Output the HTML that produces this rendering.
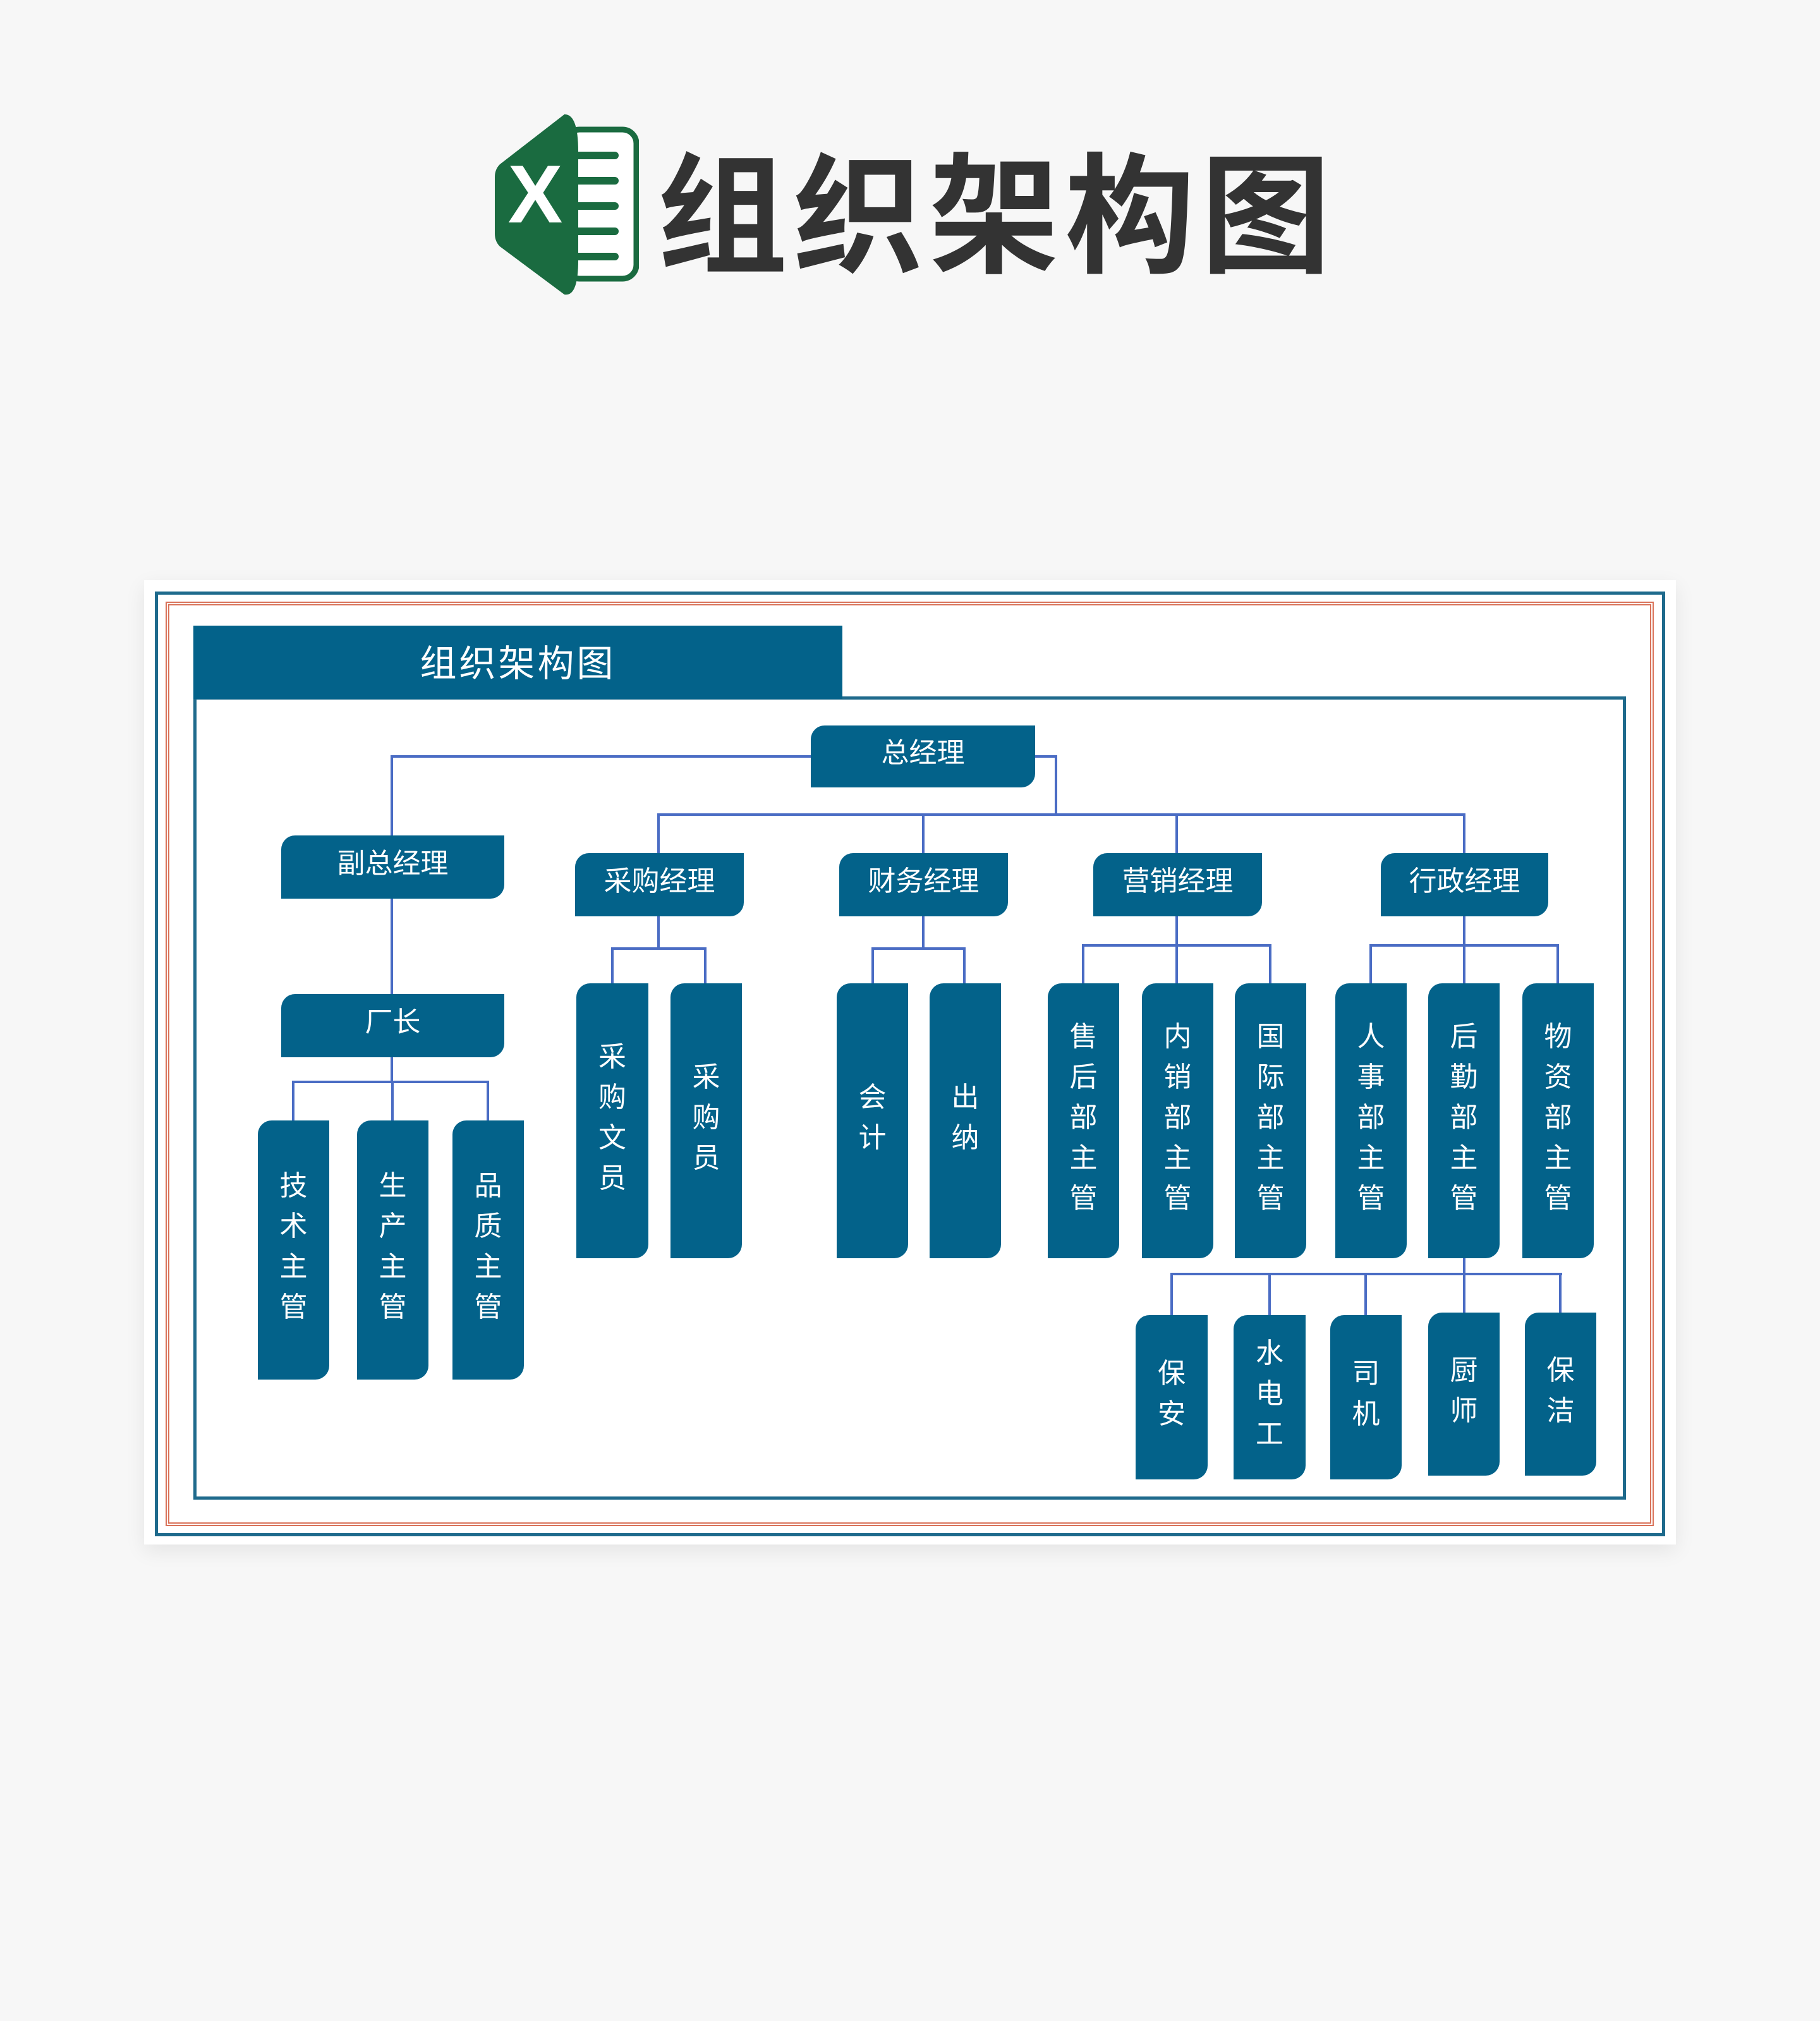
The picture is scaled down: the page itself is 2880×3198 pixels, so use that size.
<!DOCTYPE html>
<html><head><meta charset="utf-8"><style>
*{margin:0;padding:0;box-sizing:border-box}
body{width:2880px;height:3198px;background:#f7f7f7;position:relative;overflow:hidden;font-family:"Liberation Sans","Noto Sans CJK SC",sans-serif}
.a{position:absolute}
.n{position:absolute;background:#03628a;color:#fff;border-radius:22px 0 22px 0;display:flex;align-items:center;justify-content:center;text-align:center;font-size:44px;line-height:64px;padding-bottom:10px}
.h{position:absolute;background:#4a6cc4}
</style></head><body>
<svg class="a" style="left:783px;top:180px" width="228" height="288" viewBox="0 0 228 288">
<rect x="112" y="25" width="112" height="236" rx="22" fill="#fff" stroke="#1a6b40" stroke-width="9"/>
<g fill="#1a6b40">
<rect x="120" y="60" width="76" height="12" rx="6"/><rect x="120" y="100" width="76" height="12" rx="6"/><rect x="120" y="140" width="76" height="12" rx="6"/><rect x="120" y="180" width="76" height="12" rx="6"/><rect x="120" y="220" width="76" height="12" rx="6"/>
<path d="M0 100 Q0 88 8 80 L110 1 Q132 0 132 60 L132 232 Q132 290 110 286 L8 210 Q0 202 0 190 Z"/>
</g>
<text x="64" y="172" font-family="Liberation Sans" font-weight="bold" font-size="130" fill="#fff" text-anchor="middle">X</text>
</svg>
<div class="a" style="left:1040px;top:196px;font-size:206px;line-height:260px;font-weight:bold;color:#333;letter-spacing:9px;font-family:'Noto Sans CJK SC',sans-serif">组织架构图</div>

<div class="a" style="left:228px;top:918px;width:2424px;height:1526px;background:#fff;box-shadow:0 10px 30px rgba(0,0,0,0.08)"></div>
<div class="a" style="left:245px;top:936px;width:2390px;height:1495px;border:5px solid #1e6a8c"></div>
<div class="a" style="left:262px;top:952px;width:2355px;height:1463px;border:6px double #d9735a"></div>
<div class="a" style="left:306px;top:1102px;width:2267px;height:1271px;border:5px solid #1e6a8c"></div>
<div class="a" style="left:306px;top:990px;width:1027px;height:116px;background:#03628a;color:#fff;font-size:58px;display:flex;align-items:center;justify-content:center;letter-spacing:4px;padding-bottom:6px">组织架构图</div>

<div class="h" style="left:618px;top:1195px;width:667px;height:4px"></div>
<div class="h" style="left:618px;top:1195px;width:4px;height:128px"></div>
<div class="h" style="left:1636px;top:1195px;width:36px;height:4px"></div>
<div class="h" style="left:1669px;top:1195px;width:4px;height:96px"></div>
<div class="h" style="left:1040px;top:1287px;width:1279px;height:4px"></div>
<div class="h" style="left:1040px;top:1287px;width:4px;height:64px"></div>
<div class="h" style="left:1459px;top:1287px;width:4px;height:64px"></div>
<div class="h" style="left:1860px;top:1287px;width:4px;height:64px"></div>
<div class="h" style="left:2315px;top:1287px;width:4px;height:64px"></div>
<div class="h" style="left:618px;top:1420px;width:4px;height:155px"></div>
<div class="h" style="left:618px;top:1672px;width:4px;height:40px"></div>
<div class="h" style="left:462px;top:1710px;width:312px;height:4px"></div>
<div class="h" style="left:462px;top:1710px;width:4px;height:64px"></div>
<div class="h" style="left:619px;top:1710px;width:4px;height:64px"></div>
<div class="h" style="left:770px;top:1710px;width:4px;height:64px"></div>
<div class="h" style="left:1040px;top:1448px;width:4px;height:54px"></div>
<div class="h" style="left:967px;top:1499px;width:151px;height:4px"></div>
<div class="h" style="left:967px;top:1499px;width:4px;height:58px"></div>
<div class="h" style="left:1114px;top:1499px;width:4px;height:58px"></div>
<div class="h" style="left:1459px;top:1448px;width:4px;height:54px"></div>
<div class="h" style="left:1379px;top:1499px;width:149px;height:4px"></div>
<div class="h" style="left:1379px;top:1499px;width:4px;height:58px"></div>
<div class="h" style="left:1524px;top:1499px;width:4px;height:58px"></div>
<div class="h" style="left:1860px;top:1448px;width:4px;height:110px"></div>
<div class="h" style="left:1712px;top:1494px;width:300px;height:4px"></div>
<div class="h" style="left:1712px;top:1494px;width:4px;height:64px"></div>
<div class="h" style="left:2008px;top:1494px;width:4px;height:64px"></div>
<div class="h" style="left:2315px;top:1448px;width:4px;height:110px"></div>
<div class="h" style="left:2167px;top:1494px;width:300px;height:4px"></div>
<div class="h" style="left:2167px;top:1494px;width:4px;height:64px"></div>
<div class="h" style="left:2463px;top:1494px;width:4px;height:64px"></div>
<div class="h" style="left:2315px;top:1990px;width:4px;height:92px"></div>
<div class="h" style="left:1852px;top:2014px;width:620px;height:4px"></div>
<div class="h" style="left:1852px;top:2014px;width:4px;height:68px"></div>
<div class="h" style="left:2007px;top:2014px;width:4px;height:68px"></div>
<div class="h" style="left:2159px;top:2014px;width:4px;height:68px"></div>
<div class="h" style="left:2467px;top:2014px;width:4px;height:68px"></div>

<div class="n" style="left:1283px;top:1148px;width:355px;height:98px">总经理</div>
<div class="n" style="left:445px;top:1322px;width:353px;height:100px">副总经理</div>
<div class="n" style="left:910px;top:1350px;width:267px;height:100px">采购经理</div>
<div class="n" style="left:1328px;top:1350px;width:267px;height:100px">财务经理</div>
<div class="n" style="left:1730px;top:1350px;width:267px;height:100px">营销经理</div>
<div class="n" style="left:2185px;top:1350px;width:265px;height:100px">行政经理</div>
<div class="n" style="left:445px;top:1573px;width:353px;height:100px">厂长</div>

<div class="n" style="left:408px;top:1773px;width:113px;height:410px">技<br>术<br>主<br>管</div>
<div class="n" style="left:565px;top:1773px;width:113px;height:410px">生<br>产<br>主<br>管</div>
<div class="n" style="left:716px;top:1773px;width:113px;height:410px">品<br>质<br>主<br>管</div>

<div class="n" style="left:912px;top:1556px;width:114px;height:435px">采<br>购<br>文<br>员</div>
<div class="n" style="left:1061px;top:1556px;width:113px;height:435px">采<br>购<br>员</div>
<div class="n" style="left:1324px;top:1556px;width:113px;height:435px">会<br>计</div>
<div class="n" style="left:1471px;top:1556px;width:113px;height:435px">出<br>纳</div>
<div class="n" style="left:1658px;top:1556px;width:113px;height:435px">售<br>后<br>部<br>主<br>管</div>
<div class="n" style="left:1807px;top:1556px;width:113px;height:435px">内<br>销<br>部<br>主<br>管</div>
<div class="n" style="left:1954px;top:1556px;width:113px;height:435px">国<br>际<br>部<br>主<br>管</div>
<div class="n" style="left:2113px;top:1556px;width:113px;height:435px">人<br>事<br>部<br>主<br>管</div>
<div class="n" style="left:2260px;top:1556px;width:113px;height:435px">后<br>勤<br>部<br>主<br>管</div>
<div class="n" style="left:2409px;top:1556px;width:113px;height:435px">物<br>资<br>部<br>主<br>管</div>

<div class="n" style="left:1797px;top:2081px;width:114px;height:260px">保<br>安</div>
<div class="n" style="left:1952px;top:2081px;width:114px;height:260px">水<br>电<br>工</div>
<div class="n" style="left:2105px;top:2081px;width:113px;height:260px">司<br>机</div>
<div class="n" style="left:2260px;top:2077px;width:113px;height:258px">厨<br>师</div>
<div class="n" style="left:2413px;top:2077px;width:113px;height:258px">保<br>洁</div>
</body></html>
